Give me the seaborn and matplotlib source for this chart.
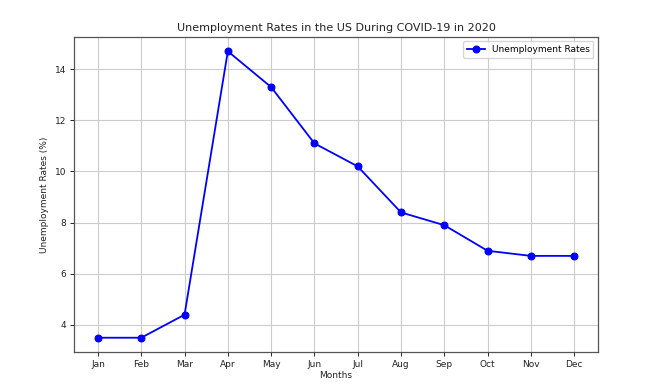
import matplotlib
matplotlib.use("Agg")
import matplotlib.pyplot as plt
import seaborn as sns
import pandas as pd

months = ["Jan", "Feb", "Mar", "Apr", "May", "Jun", "Jul", "Aug", "Sep", "Oct", "Nov", "Dec"]
rates = [3.5, 3.5, 4.4, 14.7, 13.3, 11.1, 10.2, 8.4, 7.9, 6.9, 6.7, 6.7]

df = pd.DataFrame({"Months": months, "Rate": rates})

plt.rcParams["font.family"] = ["DejaVu Sans"]
fig = plt.figure(figsize=(6.45, 3.89), dpi=100)
ax = fig.add_axes([0.115, 0.095, 0.812, 0.81])
sns.lineplot(data=df, x="Months", y="Rate", marker="o", color="blue",
             markersize=5, markeredgecolor="blue", linewidth=1.3,
             label="Unemployment Rates", ax=ax, sort=False)
ax.set_title("Unemployment Rates in the US During COVID-19 in 2020", fontsize=8, pad=4, color="#222222")
ax.set_xlabel("Months", fontsize=6.5, labelpad=2, color="#222222")
ax.set_ylabel("Unemployment Rates (%)", fontsize=6.5, color="#222222")
ax.tick_params(labelsize=6.5, length=3, width=0.6, pad=2.5, labelcolor="#222222")
ax.grid(True, color="#cccccc", linewidth=0.8)
ax.set_yticks([4, 6, 8, 10, 12, 14])
for s in ax.spines.values():
    s.set_color("#555555")
    s.set_linewidth(0.9)
ax.legend(loc="upper right", fontsize=6.5, framealpha=0.8)
fig.savefig("out.png", dpi=100)
